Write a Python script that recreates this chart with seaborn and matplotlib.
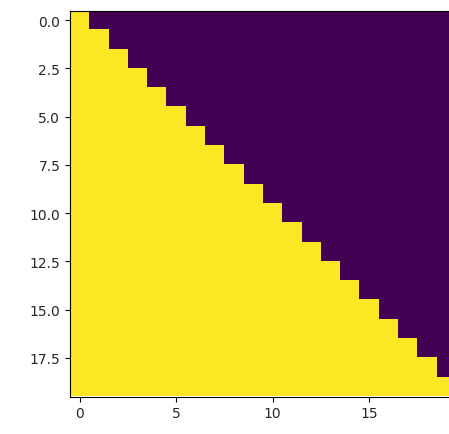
import numpy as np
import matplotlib
matplotlib.use("Agg")
import matplotlib.pyplot as plt
import seaborn as sns

# Number of "1" cells (yellow) in each row of the 20x20 mask
row_ones = [1, 2, 3, 4, 5, 6, 7, 8, 9, 10, 11, 12, 13, 14, 15, 16, 17, 18, 19, 20]
n_cols = 20
x_ticks = [0, 5, 10, 15]
y_ticks = [0.0, 2.5, 5.0, 7.5, 10.0, 12.5, 15.0, 17.5]

mask = np.array([[1.0] * k + [0.0] * (n_cols - k) for k in row_ones])

sns.set_style("ticks")
plt.rcParams['font.family'] = ['DejaVu Sans']

W, H = 449, 435
fig = plt.figure(figsize=(W / 100, H / 100), dpi=100)
ax = fig.add_axes([70 / W, (H - 397.5) / H, 386 / W, 386 / H])
ax.imshow(mask, cmap=sns.color_palette("viridis", as_cmap=True), interpolation="nearest")
ax.set_xticks(x_ticks)
ax.set_yticks(y_ticks)
ax.set_yticklabels([f"{v:.1f}" for v in y_ticks])
ax.tick_params(labelsize=10, length=3.5, color="black", labelcolor="#262626")
for s in ax.spines.values():
    s.set_color("black")
    s.set_linewidth(0.8)
fig.savefig("out.png", dpi=100)
